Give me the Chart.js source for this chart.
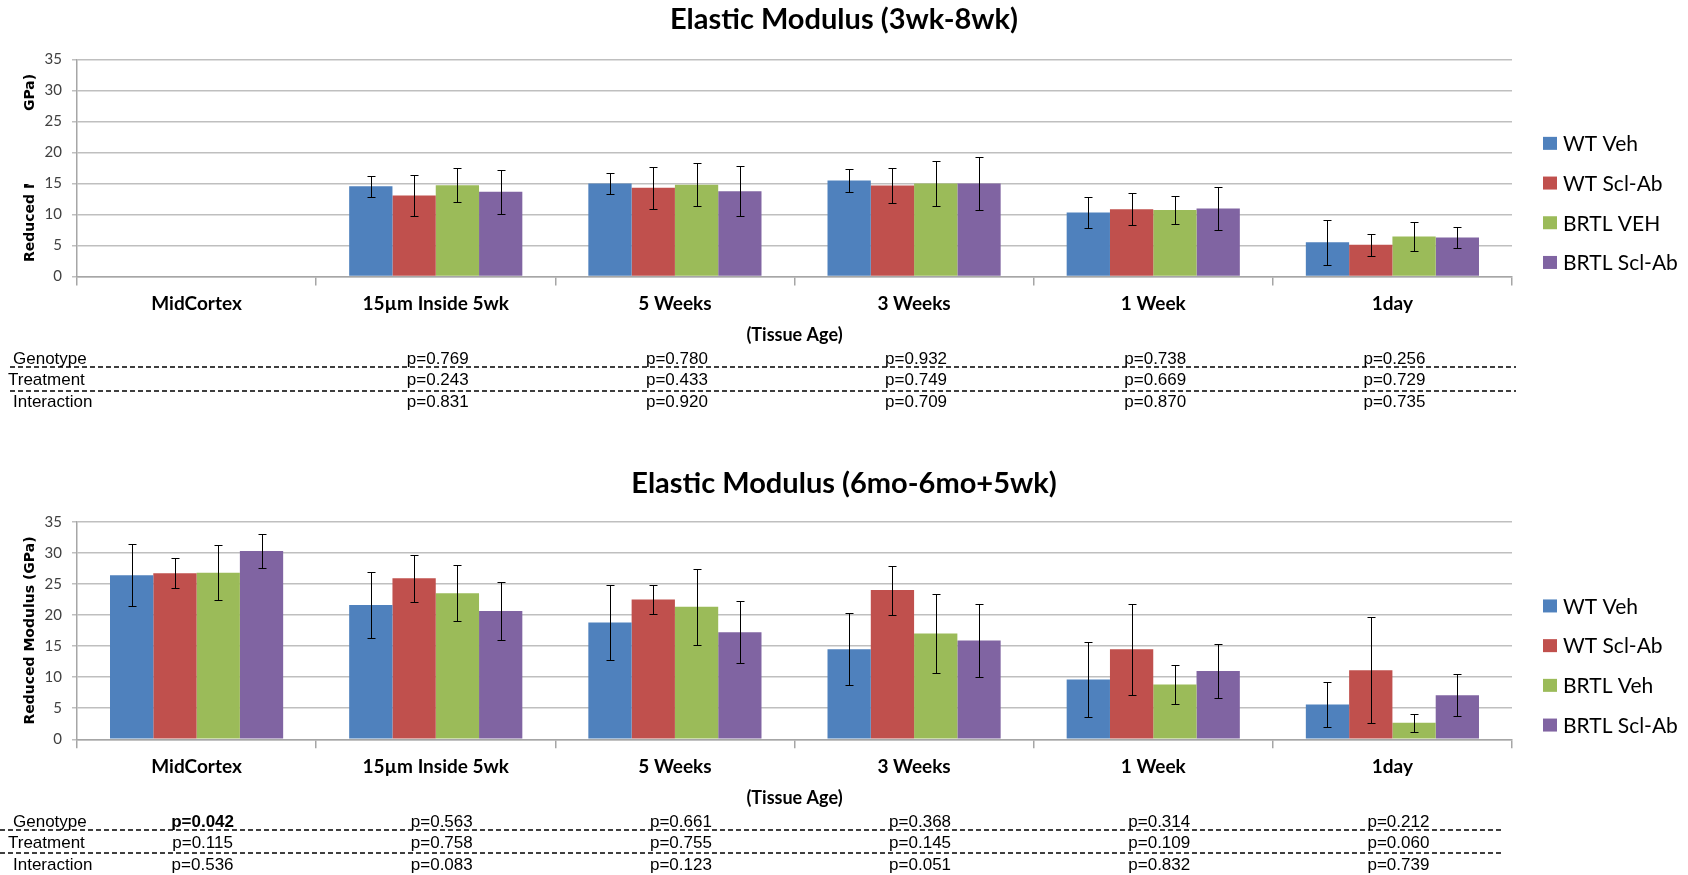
<!DOCTYPE html>
<html>
<head>
<meta charset="utf-8">
<script src="https://cdn.jsdelivr.net/npm/chart.js@4.4.1/dist/chart.umd.min.js"></script>
<style>
    html, body { margin: 0; padding: 0; background: #fff; }
    #wrap { position: relative; width: 1688px; height: 875px; }
    .box { position: absolute; left: 0; width: 1688px; }
    #topBox { top: 0; height: 440px; }
    #botBox { top: 440px; height: 435px; }
</style>
</head>
<body>
<div id="wrap">
    <div class="box" id="topBox"><canvas id="topChart"></canvas></div>
    <div class="box" id="botBox"><canvas id="botChart"></canvas></div>
</div>
<script>
const categories = ['MidCortex', '15µm Inside 5wk', '5 Weeks', '3 Weeks', '1 Week', '1day'];
const yTickValues = [0, 5, 10, 15, 20, 25, 30, 35];
const seriesColors = ['#4F81BD', '#C0504D', '#9BBB59', '#8064A2'];
const yTitle = 'Reduced Modulus (GPa)';
const xTitle = '(Tissue Age)';
const rowNames = ['Genotype', 'Treatment', 'Interaction'];

// Elastic Modulus (3wk-8wk)
const topLabels = ['WT Veh', 'WT Scl-Ab', 'BRTL VEH', 'BRTL Scl-Ab'];
const topWtVeh = [null, 14.55, 15.0, 15.45, 10.3, 5.5];
const topWtVehErr = [null, 1.7, 1.65, 1.8, 2.45, 3.6];
const topWtScl = [null, 13.05, 14.3, 14.65, 10.85, 5.1];
const topWtSclErr = [null, 3.25, 3.4, 2.8, 2.55, 1.75];
const topBrtlVeh = [null, 14.7, 14.8, 15.0, 10.7, 6.45];
const topBrtlVehErr = [null, 2.75, 3.45, 3.6, 2.3, 2.3];
const topBrtlScl = [null, 13.65, 13.75, 15.0, 10.95, 6.3];
const topBrtlSclErr = [null, 3.55, 4.0, 4.3, 3.45, 1.75];
const topGenotypeP = [null, 0.769, 0.780, 0.932, 0.738, 0.256];
const topTreatmentP = [null, 0.243, 0.433, 0.749, 0.669, 0.729];
const topInteractionP = [null, 0.831, 0.920, 0.709, 0.870, 0.735];

// Elastic Modulus (6mo-6mo+5wk)
const botLabels = ['WT Veh', 'WT Scl-Ab', 'BRTL Veh', 'BRTL Scl-Ab'];
const botWtVeh = [26.4, 21.6, 18.8, 14.5, 9.6, 5.6];
const botWtVehErr = [5.0, 5.3, 6.05, 5.8, 6.05, 3.55];
const botWtScl = [26.7, 25.9, 22.5, 24.0, 14.5, 11.1];
const botWtSclErr = [2.4, 3.8, 2.3, 3.95, 7.3, 8.5];
const botBrtlVeh = [26.8, 23.5, 21.3, 17.0, 8.8, 2.65];
const botBrtlVehErr = [4.45, 4.5, 6.1, 6.4, 3.15, 1.45];
const botBrtlScl = [30.3, 20.65, 17.2, 15.9, 11.0, 7.1];
const botBrtlSclErr = [2.8, 4.7, 5.0, 5.9, 4.35, 3.4];
const botGenotypeP = [0.042, 0.563, 0.661, 0.368, 0.314, 0.212];
const botTreatmentP = [0.115, 0.758, 0.755, 0.145, 0.109, 0.060];
const botInteractionP = [0.536, 0.083, 0.123, 0.051, 0.832, 0.739];

Chart.defaults.font.family = 'Lato, "Open Sans", sans-serif';
Chart.defaults.color = '#000';

// whiskers drawn from each bar through the y scale
const errorBarPlugin = {
    id: 'errorBars',
    afterDatasetsDraw(chart) {
        const ctx = chart.ctx;
        const yScale = chart.scales.y;
        ctx.save();
        ctx.strokeStyle = '#000';
        ctx.lineWidth = 1;
        chart.data.datasets.forEach((ds, i) => {
            const meta = chart.getDatasetMeta(i);
            meta.data.forEach((bar, j) => {
                const v = ds.data[j];
                const e = ds.errors[j];
                if (v == null || e == null) return;
                const x = Math.round(bar.x) + 0.5;
                const yHi = Math.round(yScale.getPixelForValue(v + e)) + 0.5;
                const yLo = Math.round(yScale.getPixelForValue(v - e)) + 0.5;
                ctx.beginPath();
                ctx.moveTo(x, yHi); ctx.lineTo(x, yLo);
                ctx.moveTo(x - 4, yHi); ctx.lineTo(x + 4, yHi);
                ctx.moveTo(x - 4, yLo); ctx.lineTo(x + 4, yLo);
                ctx.stroke();
            });
        });
        ctx.restore();
    }
};

// title, y title, legend on the right, and the p-value table under the axis
const decorPlugin = {
    id: 'decor',
    afterDraw(chart, args, opts) {
        const { ctx, chartArea } = chart;
        const xScale = chart.scales.x;
        const cy = (chartArea.top + chartArea.bottom) / 2;

        ctx.save();
        ctx.fillStyle = '#000';
        ctx.textAlign = 'center';
        ctx.textBaseline = 'middle';
        ctx.font = 'bold 29px Lato';
        ctx.fillText(opts.title, chart.width / 2, opts.titleY);
        ctx.restore();

        ctx.save();
        if (opts.yTitleGap) {
            ctx.beginPath();
            ctx.rect(0, 0, 60, opts.yTitleGap[0]);
            ctx.rect(0, opts.yTitleGap[1], 60, chart.height);
            ctx.clip();
        }
        ctx.translate(30, cy);
        ctx.rotate(-Math.PI / 2);
        ctx.font = 'bold 14px "DejaVu Sans"';
        ctx.fillStyle = '#000';
        ctx.textAlign = 'center';
        ctx.textBaseline = 'middle';
        ctx.fillText(yTitle, 0, 0);
        ctx.restore();

        ctx.save();
        ctx.textBaseline = 'middle';
        const step = 39.7;
        const ly0 = cy + 35 - 1.5 * step;
        chart.data.datasets.forEach((ds, i) => {
            const yy = ly0 + i * step;
            ctx.fillStyle = ds.backgroundColor;
            ctx.fillRect(1543, yy - 6.5, 14, 13);
            ctx.fillStyle = '#000';
            ctx.font = '21px Lato';
            ctx.textAlign = 'left';
            ctx.fillText(ds.label, 1563, yy + 1);
        });

        const rowY = [83, 104, 126].map(d => chartArea.bottom + d);
        const dashY = [90.5, 114].map(d => chartArea.bottom + d);
        const labelX = [13, 8, 13];
        ctx.fillStyle = '#000';
        opts.rows.forEach((vals, r) => {
            ctx.font = '17px "Liberation Sans"';
            ctx.textAlign = 'left';
            ctx.fillText(rowNames[r], labelX[r], rowY[r]);
            vals.forEach((p, j) => {
                if (p == null) return;
                ctx.font = (p < 0.05 ? 'bold ' : '') + '17px "Liberation Sans"';
                ctx.textAlign = 'center';
                ctx.fillText('p=' + p.toFixed(3), xScale.getPixelForValue(j) + opts.pShift, rowY[r]);
            });
        });
        ctx.strokeStyle = '#000';
        ctx.lineWidth = 1.5;
        ctx.setLineDash([5, 3]);
        dashY.forEach(y => {
            ctx.beginPath();
            ctx.moveTo(opts.dashX[0], Math.round(y));
            ctx.lineTo(opts.dashX[1], Math.round(y));
            ctx.stroke();
        });
        ctx.restore();
    }
};

function makeChart(canvasId, cfg) {
    return new Chart(document.getElementById(canvasId), {
        type: 'bar',
        data: {
            labels: categories,
            datasets: cfg.values.map((vals, i) => ({
                label: cfg.labels[i],
                data: vals,
                errors: cfg.errors[i],
                backgroundColor: seriesColors[i],
                borderWidth: 0,
                categoryPercentage: 0.724,
                barPercentage: 1.0
            }))
        },
        options: {
            responsive: true,
            maintainAspectRatio: false,
            animation: false,
            layout: { padding: { top: cfg.padTop, right: 176, bottom: cfg.padBottom, left: 0 } },
            scales: {
                x: {
                    grid: { display: true, drawOnChartArea: false, offset: true, tickLength: 9, color: '#a6a6a6', lineWidth: 1.5 },
                    border: { color: '#a6a6a6', width: 1.5 },
                    ticks: { font: { size: 19, weight: 'bold' }, color: '#000', padding: 7, maxRotation: 0, autoSkip: false },
                    title: { display: true, text: xTitle, font: { size: 18, weight: 'bold' }, color: '#000', padding: 0 },
                    afterFit(scale) { scale.height = cfg.xAxisHeight; }
                },
                y: {
                    min: 0,
                    max: 35,
                    afterBuildTicks(scale) { scale.ticks = yTickValues.map(v => ({ value: v })); },
                    grid: { color: '#bfbfbf', lineWidth: 1.5, tickLength: 5 },
                    border: { color: '#a6a6a6', width: 1.5 },
                    ticks: { font: { size: 15 }, color: '#404040', padding: 10 },
                    afterFit(scale) { scale.width = 77; }
                }
            },
            plugins: {
                legend: { display: false },
                tooltip: { enabled: false },
                title: { display: false },
                decor: {
                    title: cfg.title,
                    titleY: cfg.titleY,
                    rows: cfg.rows,
                    pShift: cfg.pShift,
                    dashX: cfg.dashX,
                    yTitleGap: cfg.yTitleGap
                }
            }
        },
        plugins: [errorBarPlugin, decorPlugin]
    });
}

makeChart('topChart', {
    title: 'Elastic Modulus (3wk-8wk)',
    titleY: 20,
    labels: topLabels,
    values: [topWtVeh, topWtScl, topBrtlVeh, topBrtlScl],
    errors: [topWtVehErr, topWtSclErr, topBrtlVehErr, topBrtlSclErr],
    rows: [topGenotypeP, topTreatmentP, topInteractionP],
    padTop: 59.3,
    xAxisHeight: 69.5,
    padBottom: 94,
    pShift: 2,
    dashX: [10, 1516],
    yTitleGap: [112, 184]
});

makeChart('botChart', {
    title: 'Elastic Modulus (6mo-6mo+5wk)',
    titleY: 43.5,
    labels: botLabels,
    values: [botWtVeh, botWtScl, botBrtlVeh, botBrtlScl],
    errors: [botWtVehErr, botWtSclErr, botBrtlVehErr, botBrtlSclErr],
    rows: [botGenotypeP, botTreatmentP, botInteractionP],
    padTop: 81.7,
    xAxisHeight: 69.2,
    padBottom: 66.5,
    pShift: 6,
    dashX: [0, 1503],
    yTitleGap: null
});
</script>
</body>
</html>
